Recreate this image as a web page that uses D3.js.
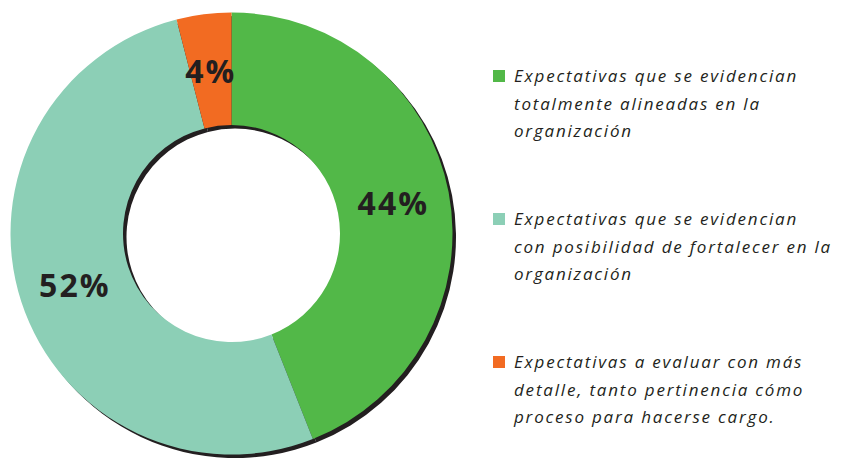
<!DOCTYPE html>
<html>
<head>
<meta charset="utf-8">
<script src="https://cdn.jsdelivr.net/npm/d3@7"></script>
<style>
  body { margin: 0; background: #fff; }
  svg { display: block; }
</style>
</head>
<body>
<script>
const categories = ["alineadas", "fortalecer", "evaluar"];
const values = [44, 52, 4];
const labels = ["44%", "52%", "4%"];
const colors = ["#52b848", "#8ccfb6", "#f26b22"];
const legendLines = [
    ["Expectativas que se evidencian", "totalmente alineadas en la", "organización"],
    ["Expectativas que se evidencian", "con posibilidad de fortalecer en la", "organización"],
    ["Expectativas a evaluar con más", "detalle, tanto pertinencia cómo", "proceso para hacerse cargo."]
];

const width = 851, height = 459;
const center = {x: 231.5, y: 233.5};
const outerR = 221, innerR = 108.5;
const shadowOffset = 3.5;

const svg = d3.select("body").append("svg")
    .attr("width", width)
    .attr("height", height);

const pie = d3.pie().sort(null).value(d => d);
const arcs = pie(values);
const arc = d3.arc().innerRadius(innerR).outerRadius(outerR);

// dark copy behind the ring, shifted down-right
svg.append("g")
    .attr("transform", `translate(${center.x + shadowOffset},${center.y + shadowOffset})`)
    .selectAll("path")
    .data(arcs)
    .join("path")
    .attr("d", arc)
    .attr("fill", "#231f20");

const donut = svg.append("g")
    .attr("transform", `translate(${center.x},${center.y})`);

donut.selectAll("path")
    .data(arcs)
    .join("path")
    .attr("d", arc)
    .attr("fill", (d, i) => colors[i]);

donut.selectAll("text")
    .data(arcs)
    .join("text")
    .attr("x", d => arc.centroid(d)[0])
    .attr("y", d => arc.centroid(d)[1])
    .attr("text-anchor", "middle")
    .attr("dominant-baseline", "central")
    .style("font-family", "'Open Sans', sans-serif")
    .style("font-weight", "bold")
    .style("font-size", "32px")
    .style("letter-spacing", "2px")
    .style("fill", "#231f20")
    .text((d, i) => labels[i]);

const legend = svg.append("g")
    .attr("transform", "translate(493,70)");

const item = legend.selectAll("g")
    .data(categories)
    .join("g")
    .attr("transform", (d, i) => `translate(0,${i * 143})`);

item.append("rect")
    .attr("width", 12)
    .attr("height", 12)
    .attr("fill", (d, i) => colors[i]);

item.append("text")
    .style("font-family", "'Open Sans', sans-serif")
    .style("font-style", "italic")
    .style("font-size", "17px")
    .style("letter-spacing", "1.8px")
    .style("fill", "#231f20")
    .selectAll("tspan")
    .data((d, i) => legendLines[i])
    .join("tspan")
    .attr("x", 21)
    .attr("y", (d, j) => 12 + j * 27.5)
    .text(d => d);
</script>
</body>
</html>
